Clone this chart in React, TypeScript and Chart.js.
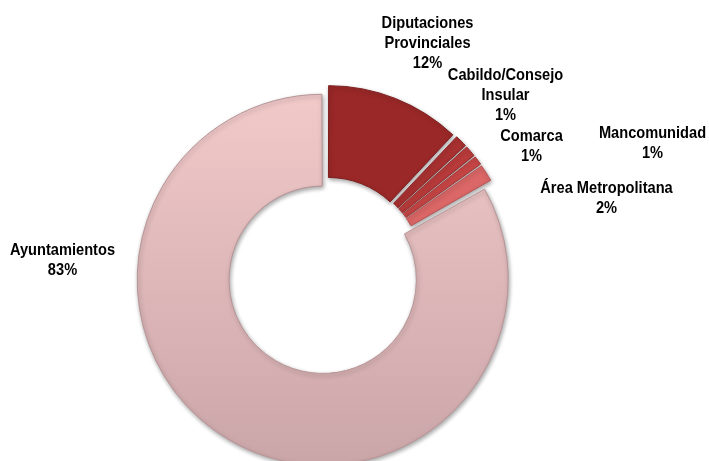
import React, { useEffect, useRef } from "react";
import { Chart, registerables } from "chart.js";

Chart.register(...registerables);

// ---- data ----
const categories = [
  "Diputaciones Provinciales",
  "Cabildo/Consejo Insular",
  "Comarca",
  "Mancomunidad",
  "Área Metropolitana",
  "Ayuntamientos",
];
const labelLines = [
  ["Diputaciones", "Provinciales"],
  ["Cabildo/Consejo", "Insular"],
  ["Comarca"],
  ["Mancomunidad"],
  ["Área Metropolitana"],
  ["Ayuntamientos"],
];
const shares = [12.0, 1.2, 1.1, 0.9, 1.6, 83.2];

// ---- styles / layout ----
const sliceColors = ["#9b2828", "#a93131", "#ba3b3b", "#c94646", "#dc6767", "#e9c2c2"];
const sliceBorders = ["#7d1f1f", "#8a2626", "#972e2e", "#a43838", "#b85454", "#b89496"];
const sliceOffsets = [30, 22, 22, 22, 22, 22];
// label block centres relative to the doughnut centre (px)
const labelOffsets: [number, number][] = [
  [102, -232],
  [180, -180],
  [206, -129],
  [327, -132],
  [281, -77],
  [-263, -15],
];
const LINE_H = 20;
const NARROW = 0.86;

const labelPlugin = {
  id: "sliceLabels",
  afterDatasetsDraw(chart: any) {
    const meta = chart.getDatasetMeta(0);
    const arc0 = meta.data[0];
    if (!arc0) return;
    const cx = arc0.x;
    const cy = arc0.y;
    const ctx = chart.ctx;
    ctx.save();
    ctx.font = 'bold 17px "Liberation Sans", Arial, sans-serif';
    ctx.fillStyle = "#000";
    ctx.textAlign = "center";
    ctx.textBaseline = "middle";
    labelLines.forEach((lines, i) => {
      const all = [...lines, Math.round(shares[i]) + "%"];
      const [dx, dy] = labelOffsets[i];
      const x = cx + dx;
      const y0 = cy + dy - ((all.length - 1) * LINE_H) / 2;
      all.forEach((t, j) => {
        ctx.save();
        ctx.translate(x, y0 + j * LINE_H);
        ctx.scale(NARROW, 1);
        ctx.fillText(t, 0, 0);
        ctx.restore();
      });
    });
    ctx.restore();
  },
};

const shadowPlugin = {
  id: "ringShadow",
  beforeDatasetsDraw(chart: any) {
    const ctx = chart.ctx;
    ctx.save();
    ctx.shadowColor = "rgba(0,0,0,0.35)";
    ctx.shadowBlur = 4;
    ctx.shadowOffsetX = 1;
    ctx.shadowOffsetY = 2;
  },
  afterDatasetsDraw(chart: any) {
    chart.ctx.restore();
  },
};

export default function App() {
  const ref = useRef<HTMLCanvasElement | null>(null);

  useEffect(() => {
    if (!ref.current) return;
    const chart = new Chart(ref.current, {
      type: "doughnut",
      data: {
        labels: categories,
        datasets: [
          {
            data: shares,
            backgroundColor: (c: any) => {
              const i = c.dataIndex;
              if (i !== 5) return sliceColors[i];
              const { chart: ch } = c;
              const area = ch.chartArea;
              if (!area) return sliceColors[i];
              const g = ch.ctx.createLinearGradient(0, 90, 0, 465);
              g.addColorStop(0, "#f1c9c9");
              g.addColorStop(1, "#caa5a8");
              return g;
            },
            borderColor: sliceBorders,
            borderWidth: 1,
            offset: sliceOffsets,
            hoverOffset: 0,
            clip: false,
          } as any,
        ],
      },
      options: {
        responsive: false,
        animation: false,
        radius: 180,
        cutout: "49%",
        layout: { padding: { left: 0, right: 58, top: 89, bottom: 0 } },
        plugins: {
          legend: { display: false },
          tooltip: { enabled: false },
        },
        events: [],
      } as any,
      plugins: [shadowPlugin, labelPlugin],
    });
    return () => chart.destroy();
  }, []);

  return (
    <div style={{ position: "fixed", left: 0, top: 0, width: 709, height: 461, background: "#fff" }}>
      <canvas ref={ref} width={709} height={461} style={{ display: "block" }} />
    </div>
  );
}
